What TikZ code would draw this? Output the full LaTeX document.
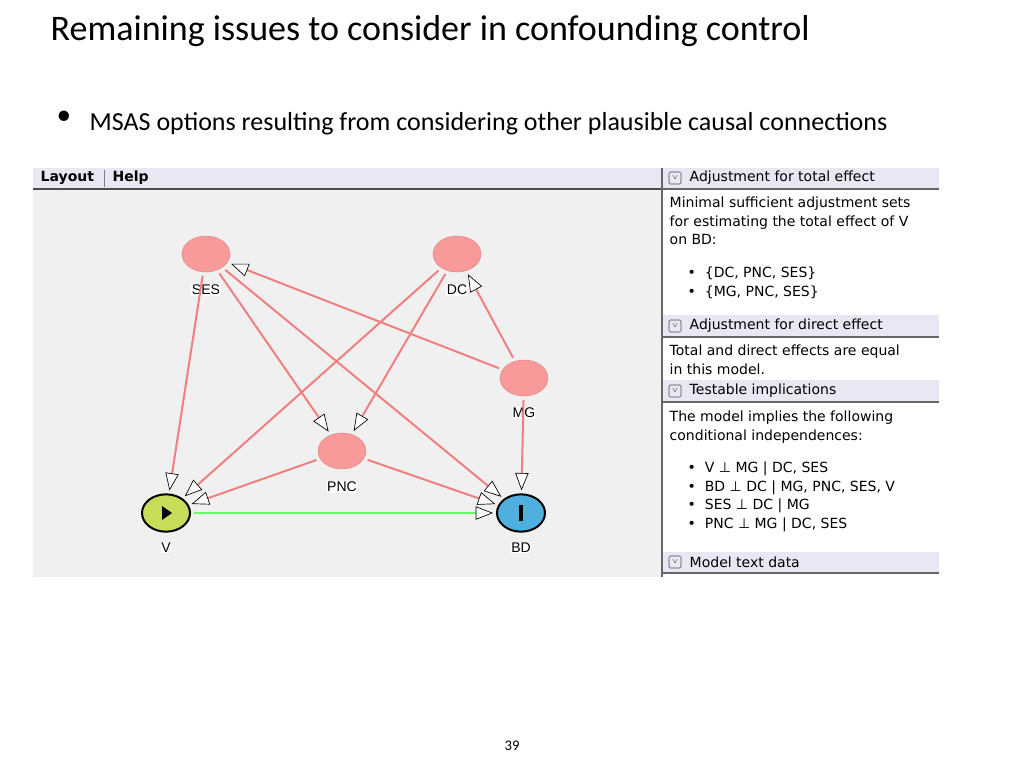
\documentclass[tikz,border=0pt]{standalone}
\usepackage{fontspec}
\setmainfont{Carlito}
\newfontfamily\verd{DejaVu Sans}
\newfontfamily\ari{Liberation Sans}
\usetikzlibrary{arrows.meta,shapes.geometric}
\definecolor{nodepink}{HTML}{F89A9A}
\definecolor{edgepink}{HTML}{F08080}
\definecolor{panelgray}{HTML}{F0F0F0}
\definecolor{hdr}{HTML}{E8E8F4}
\definecolor{vgreen}{HTML}{C8DC5A}
\definecolor{bdblue}{HTML}{4FB0E0}
\tikzset{
 var/.style={ellipse,fill=nodepink,draw=nodepink!90!black,line width=0.4pt,minimum width=36pt,minimum height=27pt,outer sep=3pt},
 lab/.style={font=\ari\fontsize{10.5}{12}\selectfont,fill=white,inner sep=0.5pt},
 edge/.style={draw=edgepink,line width=1.5pt,-{Triangle[length=13pt,width=10pt,fill=white,color=black,line width=0.5pt]}},
 hd/.style={anchor=west,font=\verd\fontsize{10.5}{13}\selectfont},
 txt/.style={anchor=north west,align=left,font=\verd\fontsize{10.5}{14}\selectfont},
}
\begin{document}
\begin{tikzpicture}[x=0.75pt,y=-0.75pt]
\useasboundingbox (0,0) rectangle (1024,768);
\fill[white] (0,0) rectangle (1024,768);
\node[anchor=west,font=\fontsize{27}{31}\selectfont] (title) at (46,31) {Remaining issues to consider in confounding control};
\node[anchor=west,font=\fontsize{22}{24}\selectfont] (bul) at (52,118) {\textbullet};
\node[anchor=west,font=\fontsize{19.5}{22}\selectfont] (sub) at (85,124) {MSAS options resulting from considering other plausible causal connections};
% left panel
\fill[panelgray] (33,168) rectangle (662,577);
\fill[hdr] (33,168) rectangle (662,189);
\draw[black!70,line width=0.8pt] (33,189) -- (662,189);
\node[anchor=west,font=\verd\bfseries\fontsize{10.5}{13}\selectfont] (lay) at (36,178) {Layout};
\draw[gray] (104,170) -- (104,187);
\node[anchor=west,font=\verd\bfseries\fontsize{10.5}{13}\selectfont] (help) at (108,178) {Help};
% right panel
\fill[white] (662,168) rectangle (939,577);
\foreach \a/\b in {168/189,315/337,380/402,552/573}{\fill[hdr] (662,\a) rectangle (939,\b);}
\foreach \y in {189,337,402,573}{\draw[black!60,line width=0.8pt] (662,\y) -- (939,\y);}
\draw[black!60,line width=0.8pt] (662,168) -- (662,577);
\foreach \y/\t in {178/Adjustment for total effect,326/Adjustment for direct effect,391/Testable implications,562/Model text data}{
 \draw[black!70,line width=0.4pt,rounded corners=1pt] (669,\y-6) rectangle (681,\y+6);
 \node[font=\verd\fontsize{7}{7}\selectfont,inner sep=0] at (675,\y) {$\scriptstyle\vee$};
 \node[hd] at (685,\y) {\t};}
\node[txt] (t1) at (665,192) {Minimal sufficient adjustment sets\\for estimating the total effect of V\\on BD:};
\node[txt] (t2) at (683,262) {\textbullet\ \ \{DC, PNC, SES\}\\\textbullet\ \ \{MG, PNC, SES\}};
\node[txt] (t3) at (665,340) {Total and direct effects are equal\\in this model.};
\node[txt] (t4) at (665,406) {The model implies the following\\conditional independences:};
\node[txt] (t5) at (683,457) {\textbullet\ \ V ⊥ MG | DC, SES\\\textbullet\ \ BD ⊥ DC | MG, PNC, SES, V\\\textbullet\ \ SES ⊥ DC | MG\\\textbullet\ \ PNC ⊥ MG | DC, SES};
% graph
\node[var] (SES) at (206,254) {};
\node[var] (DC) at (457,254) {};
\node[var] (MG) at (524,378) {};
\node[var] (PNC) at (342,451) {};
\node[ellipse,fill=vgreen,draw=black,line width=1.5pt,minimum width=36pt,minimum height=28pt,outer sep=3pt] (V) at (166,513) {};
\fill (162,506) -- (172,513) -- (162,520) -- cycle;
\node[ellipse,fill=bdblue,draw=black,line width=1.5pt,minimum width=36pt,minimum height=28pt,outer sep=3pt] (BD) at (521,513) {};
\fill (519,505) rectangle (523,521);
\node[lab] at (206,290) {SES};
\node[lab] at (457,290) {DC};
\node[lab] at (524,413) {MG};
\node[lab] at (342,487) {PNC};
\node[lab] at (166,548) {V};
\node[lab] at (521,548) {BD};
\draw[edge] (SES) -- (V);
\draw[edge] (SES) -- (PNC);
\draw[edge] (SES) -- (BD);
\draw[edge] (DC) -- (V);
\draw[edge] (DC) -- (PNC);
\draw[edge] (MG) -- (SES);
\draw[edge] (MG) -- (DC);
\draw[edge] (MG) -- (BD);
\draw[edge] (PNC) -- (V);
\draw[edge] (PNC) -- (BD);
\draw[edge,draw=green!60] (V) -- (BD);
\node[font=\fontsize{11}{13}\selectfont] (pg) at (512,746) {39};
\end{tikzpicture}
\end{document}
